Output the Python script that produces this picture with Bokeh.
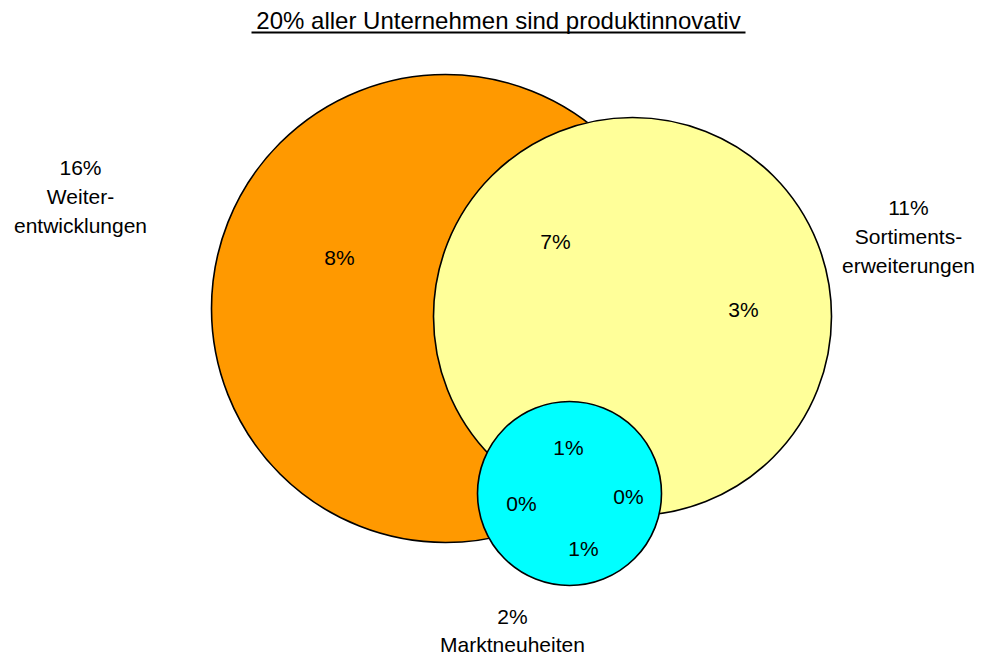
from bokeh.plotting import figure
from bokeh.models import Range1d, ColumnDataSource
from bokeh.core.properties import value
from bokeh.embed import file_html
from bokeh.resources import INLINE

# ---- data ----
title_text = "20% aller Unternehmen sind produktinnovativ"
set_names = ["Weiter-\nentwicklungen", "Sortiments-\nerweiterungen", "Marktneuheiten"]
set_values = [16, 11, 2]
set_colors = ["#FF9900", "#FFFF99", "#00FFFF"]
region_values = [8, 7, 3, 1, 0, 0, 1]

# ---- layout (pixel coordinates of the picture) ----
circle_x = [445, 632, 569]
circle_y = [308, 316, 493]
circle_r = [234, 199, 92]
set_label_x = [80, 908, 512]
set_label_y = [196, 236, 630]
region_x = [339, 555, 743, 568, 521, 628, 583]
region_y = [257, 241, 309, 447, 503, 496, 548]

FONT = "Liberation Sans"
W, H = 983, 657
p = figure(width=W, height=H, output_backend="svg", toolbar_location=None,
           x_range=Range1d(0, W), y_range=Range1d(H, 0),
           min_border=0, outline_line_color=None)
p.axis.visible = False
p.grid.visible = False
p.background_fill_color = "white"
p.border_fill_color = "white"

circ = ColumnDataSource(dict(x=circle_x, y=circle_y, r=circle_r, c=set_colors))
p.circle(x="x", y="y", radius="r", fill_color="c", line_color="black",
         line_width=1.6, source=circ)

reg = ColumnDataSource(dict(x=region_x, y=region_y,
                            t=[f"{v}%" for v in region_values]))
p.text(x="x", y="y", text="t", source=reg, text_align="center",
       text_baseline="middle", text_font=value(FONT), text_font_size="21px",
       text_color="black")

lab = ColumnDataSource(dict(x=set_label_x, y=set_label_y,
                            t=[f"{v}%\n{n}" for v, n in zip(set_values, set_names)]))
p.text(x="x", y="y", text="t", source=lab, text_align="center",
       text_baseline="middle", text_font=value(FONT), text_font_size="21px",
       text_line_height=1.25, text_color="black")

# title with underline
p.text(x=[498], y=[20], text=[title_text], text_align="center",
       text_baseline="middle", text_font=value(FONT), text_font_size="24px",
       text_color="black")
p.segment(x0=[251], y0=[32], x1=[745], y1=[32], line_color="black", line_width=2)

open("out.html", "w").write(file_html(p, INLINE))
